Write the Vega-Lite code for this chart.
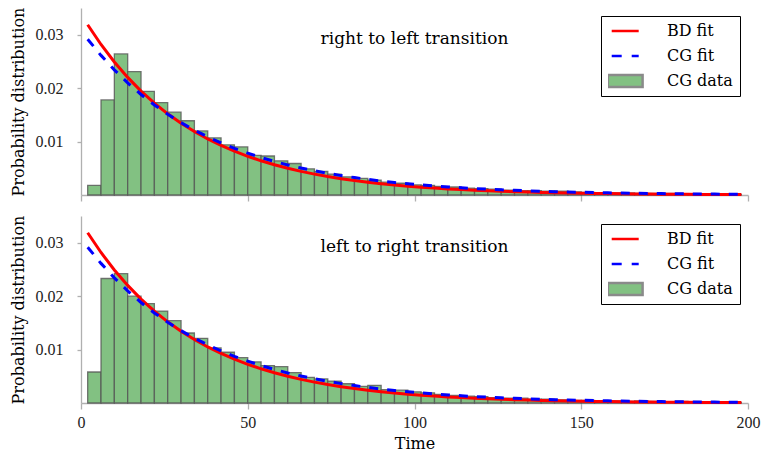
{
  "$schema": "https://vega.github.io/schema/vega-lite/v6.json",
  "padding": {"left": 10, "top": 7, "right": 3, "bottom": 3},
  "spacing": 13,
  "datasets": {
    "fits": [
      {"t": 2, "p": 0.03187, "series": "BD fit"}, {"t": 6, "p": 0.02817, "series": "BD fit"}, {"t": 10, "p": 0.02490, "series": "BD fit"}, {"t": 14, "p": 0.02201, "series": "BD fit"}, {"t": 18, "p": 0.01945, "series": "BD fit"}, {"t": 22, "p": 0.01719, "series": "BD fit"}, {"t": 26, "p": 0.01519, "series": "BD fit"}, {"t": 30, "p": 0.01343, "series": "BD fit"}, {"t": 34, "p": 0.01187, "series": "BD fit"}, {"t": 38, "p": 0.01049, "series": "BD fit"}, {"t": 42, "p": 0.00927, "series": "BD fit"}, {"t": 46, "p": 0.00820, "series": "BD fit"}, {"t": 50, "p": 0.00724, "series": "BD fit"}, {"t": 54, "p": 0.00640, "series": "BD fit"}, {"t": 58, "p": 0.00566, "series": "BD fit"}, {"t": 62, "p": 0.00500, "series": "BD fit"}, {"t": 66, "p": 0.00442, "series": "BD fit"}, {"t": 70, "p": 0.00391, "series": "BD fit"}, {"t": 74, "p": 0.00345, "series": "BD fit"}, {"t": 78, "p": 0.00305, "series": "BD fit"}, {"t": 82, "p": 0.00270, "series": "BD fit"}, {"t": 86, "p": 0.00238, "series": "BD fit"}, {"t": 90, "p": 0.00211, "series": "BD fit"}, {"t": 94, "p": 0.00186, "series": "BD fit"}, {"t": 98, "p": 0.00165, "series": "BD fit"}, {"t": 102, "p": 0.00146, "series": "BD fit"}, {"t": 106, "p": 0.00129, "series": "BD fit"}, {"t": 110, "p": 0.00114, "series": "BD fit"}, {"t": 114, "p": 0.00101, "series": "BD fit"}, {"t": 118, "p": 0.00089, "series": "BD fit"}, {"t": 122, "p": 0.00079, "series": "BD fit"}, {"t": 126, "p": 0.00069, "series": "BD fit"}, {"t": 130, "p": 0.00061, "series": "BD fit"}, {"t": 134, "p": 0.00054, "series": "BD fit"}, {"t": 138, "p": 0.00048, "series": "BD fit"}, {"t": 142, "p": 0.00042, "series": "BD fit"}, {"t": 146, "p": 0.00037, "series": "BD fit"}, {"t": 150, "p": 0.00033, "series": "BD fit"}, {"t": 154, "p": 0.00029, "series": "BD fit"}, {"t": 158, "p": 0.00026, "series": "BD fit"}, {"t": 162, "p": 0.00023, "series": "BD fit"}, {"t": 166, "p": 0.00020, "series": "BD fit"}, {"t": 170, "p": 0.00018, "series": "BD fit"}, {"t": 174, "p": 0.00016, "series": "BD fit"}, {"t": 178, "p": 0.00014, "series": "BD fit"}, {"t": 182, "p": 0.00012, "series": "BD fit"}, {"t": 186, "p": 0.00011, "series": "BD fit"}, {"t": 190, "p": 0.000096, "series": "BD fit"}, {"t": 194, "p": 0.000085, "series": "BD fit"}, {"t": 198, "p": 0.000075, "series": "BD fit"},
      {"t": 2, "p": 0.02916, "series": "CG fit"}, {"t": 6, "p": 0.02613, "series": "CG fit"}, {"t": 10, "p": 0.02342, "series": "CG fit"}, {"t": 14, "p": 0.02099, "series": "CG fit"}, {"t": 18, "p": 0.01881, "series": "CG fit"}, {"t": 22, "p": 0.01686, "series": "CG fit"}, {"t": 26, "p": 0.01511, "series": "CG fit"}, {"t": 30, "p": 0.01354, "series": "CG fit"}, {"t": 34, "p": 0.01213, "series": "CG fit"}, {"t": 38, "p": 0.01088, "series": "CG fit"}, {"t": 42, "p": 0.00975, "series": "CG fit"}, {"t": 46, "p": 0.00873, "series": "CG fit"}, {"t": 50, "p": 0.00783, "series": "CG fit"}, {"t": 54, "p": 0.00701, "series": "CG fit"}, {"t": 58, "p": 0.00629, "series": "CG fit"}, {"t": 62, "p": 0.00563, "series": "CG fit"}, {"t": 66, "p": 0.00505, "series": "CG fit"}, {"t": 70, "p": 0.00453, "series": "CG fit"}, {"t": 74, "p": 0.00406, "series": "CG fit"}, {"t": 78, "p": 0.00363, "series": "CG fit"}, {"t": 82, "p": 0.00326, "series": "CG fit"}, {"t": 86, "p": 0.00292, "series": "CG fit"}, {"t": 90, "p": 0.00262, "series": "CG fit"}, {"t": 94, "p": 0.00234, "series": "CG fit"}, {"t": 98, "p": 0.00210, "series": "CG fit"}, {"t": 102, "p": 0.00188, "series": "CG fit"}, {"t": 106, "p": 0.00169, "series": "CG fit"}, {"t": 110, "p": 0.00151, "series": "CG fit"}, {"t": 114, "p": 0.00136, "series": "CG fit"}, {"t": 118, "p": 0.00121, "series": "CG fit"}, {"t": 122, "p": 0.00109, "series": "CG fit"}, {"t": 126, "p": 0.00098, "series": "CG fit"}, {"t": 130, "p": 0.00087, "series": "CG fit"}, {"t": 134, "p": 0.00078, "series": "CG fit"}, {"t": 138, "p": 0.00070, "series": "CG fit"}, {"t": 142, "p": 0.00063, "series": "CG fit"}, {"t": 146, "p": 0.00056, "series": "CG fit"}, {"t": 150, "p": 0.00051, "series": "CG fit"}, {"t": 154, "p": 0.00045, "series": "CG fit"}, {"t": 158, "p": 0.00041, "series": "CG fit"}, {"t": 162, "p": 0.00036, "series": "CG fit"}, {"t": 166, "p": 0.00033, "series": "CG fit"}, {"t": 170, "p": 0.00029, "series": "CG fit"}, {"t": 174, "p": 0.00026, "series": "CG fit"}, {"t": 178, "p": 0.00023, "series": "CG fit"}, {"t": 182, "p": 0.00021, "series": "CG fit"}, {"t": 186, "p": 0.00019, "series": "CG fit"}, {"t": 190, "p": 0.00017, "series": "CG fit"}, {"t": 194, "p": 0.00015, "series": "CG fit"}, {"t": 198, "p": 0.00014, "series": "CG fit"}
    ],
    "top": [
      {"t0": 2, "t1": 6, "p": 0.0018}, {"t0": 6, "t1": 10, "p": 0.0178}, {"t0": 10, "t1": 14, "p": 0.0264}, {"t0": 14, "t1": 18, "p": 0.0231}, {"t0": 18, "t1": 22, "p": 0.0194}, {"t0": 22, "t1": 26, "p": 0.0173}, {"t0": 26, "t1": 30, "p": 0.0155}, {"t0": 30, "t1": 34, "p": 0.0139}, {"t0": 34, "t1": 38, "p": 0.0120}, {"t0": 38, "t1": 42, "p": 0.0107}, {"t0": 42, "t1": 46, "p": 0.0094}, {"t0": 46, "t1": 50, "p": 0.0090}, {"t0": 50, "t1": 54, "p": 0.0074}, {"t0": 54, "t1": 58, "p": 0.0073}, {"t0": 58, "t1": 62, "p": 0.0064}, {"t0": 62, "t1": 66, "p": 0.0059}, {"t0": 66, "t1": 70, "p": 0.0049}, {"t0": 70, "t1": 74, "p": 0.0044}, {"t0": 74, "t1": 78, "p": 0.0039}, {"t0": 78, "t1": 82, "p": 0.0034}, {"t0": 82, "t1": 86, "p": 0.0031}, {"t0": 86, "t1": 90, "p": 0.0028}, {"t0": 90, "t1": 94, "p": 0.0024}, {"t0": 94, "t1": 98, "p": 0.0022}, {"t0": 98, "t1": 102, "p": 0.0019}, {"t0": 102, "t1": 106, "p": 0.0018}, {"t0": 106, "t1": 110, "p": 0.0016}, {"t0": 110, "t1": 114, "p": 0.0015}, {"t0": 114, "t1": 118, "p": 0.0013}, {"t0": 118, "t1": 122, "p": 0.0012}, {"t0": 122, "t1": 126, "p": 0.0011}, {"t0": 126, "t1": 130, "p": 0.0009}, {"t0": 130, "t1": 134, "p": 0.0008}, {"t0": 134, "t1": 138, "p": 0.0008}, {"t0": 138, "t1": 142, "p": 0.0007}, {"t0": 142, "t1": 146, "p": 0.0007}, {"t0": 146, "t1": 150, "p": 0.0006}, {"t0": 150, "t1": 154, "p": 0.0005}, {"t0": 154, "t1": 158, "p": 0.0004}, {"t0": 158, "t1": 162, "p": 0.0004}, {"t0": 162, "t1": 166, "p": 0.0004}, {"t0": 166, "t1": 170, "p": 0.0003}, {"t0": 170, "t1": 174, "p": 0.0003}, {"t0": 174, "t1": 178, "p": 0.0003}, {"t0": 178, "t1": 182, "p": 0.0002}, {"t0": 182, "t1": 186, "p": 0.0002}, {"t0": 186, "t1": 190, "p": 0.0002}, {"t0": 190, "t1": 194, "p": 0.0002}, {"t0": 194, "t1": 198, "p": 0.0001}
    ],
    "bottom": [
      {"t0": 2, "t1": 6, "p": 0.0058}, {"t0": 6, "t1": 10, "p": 0.0233}, {"t0": 10, "t1": 14, "p": 0.0242}, {"t0": 14, "t1": 18, "p": 0.0200}, {"t0": 18, "t1": 22, "p": 0.0186}, {"t0": 22, "t1": 26, "p": 0.0172}, {"t0": 26, "t1": 30, "p": 0.0154}, {"t0": 30, "t1": 34, "p": 0.0131}, {"t0": 34, "t1": 38, "p": 0.0121}, {"t0": 38, "t1": 42, "p": 0.0103}, {"t0": 42, "t1": 46, "p": 0.0095}, {"t0": 46, "t1": 50, "p": 0.0085}, {"t0": 50, "t1": 54, "p": 0.0077}, {"t0": 54, "t1": 58, "p": 0.0070}, {"t0": 58, "t1": 62, "p": 0.0068}, {"t0": 62, "t1": 66, "p": 0.0057}, {"t0": 66, "t1": 70, "p": 0.0048}, {"t0": 70, "t1": 74, "p": 0.0045}, {"t0": 74, "t1": 78, "p": 0.0041}, {"t0": 78, "t1": 82, "p": 0.0036}, {"t0": 82, "t1": 86, "p": 0.0031}, {"t0": 86, "t1": 90, "p": 0.0033}, {"t0": 90, "t1": 94, "p": 0.0025}, {"t0": 94, "t1": 98, "p": 0.0024}, {"t0": 98, "t1": 102, "p": 0.0021}, {"t0": 102, "t1": 106, "p": 0.0019}, {"t0": 106, "t1": 110, "p": 0.0016}, {"t0": 110, "t1": 114, "p": 0.0014}, {"t0": 114, "t1": 118, "p": 0.0013}, {"t0": 118, "t1": 122, "p": 0.0012}, {"t0": 122, "t1": 126, "p": 0.0010}, {"t0": 126, "t1": 130, "p": 0.0009}, {"t0": 130, "t1": 134, "p": 0.0009}, {"t0": 134, "t1": 138, "p": 0.0007}, {"t0": 138, "t1": 142, "p": 0.0007}, {"t0": 142, "t1": 146, "p": 0.0006}, {"t0": 146, "t1": 150, "p": 0.0005}, {"t0": 150, "t1": 154, "p": 0.0005}, {"t0": 154, "t1": 158, "p": 0.0004}, {"t0": 158, "t1": 162, "p": 0.0004}, {"t0": 162, "t1": 166, "p": 0.0003}, {"t0": 166, "t1": 170, "p": 0.0004}, {"t0": 170, "t1": 174, "p": 0.0003}, {"t0": 174, "t1": 178, "p": 0.0002}, {"t0": 178, "t1": 182, "p": 0.0003}, {"t0": 182, "t1": 186, "p": 0.0002}, {"t0": 186, "t1": 190, "p": 0.0002}, {"t0": 190, "t1": 194, "p": 0.0001}, {"t0": 194, "t1": 198, "p": 0.0001}
    ]
  },
  "vconcat": [
    {
      "width": 667, "height": 187,
      "title": {"text": "right to left transition", "offset": -54, "baseline": "alphabetic"},
      "layer": [
        {
          "data": {"name": "top"},
          "mark": {"type": "bar", "fill": "#82c182", "stroke": "#555555", "strokeWidth": 1.3, "strokeOpacity": 0.8},
          "encoding": {
            "x": {"field": "t0", "type": "quantitative", "scale": {"domain": [0, 200], "nice": false}, "axis": {"values": [0, 50, 100, 150, 200], "labels": false, "title": null}},
            "x2": {"field": "t1"},
            "y": {"field": "p", "type": "quantitative", "scale": {"domain": [0, 0.035], "nice": false}, "axis": {"values": [0.01, 0.02, 0.03], "format": ".2f", "title": "Probability distribution"}},
            "y2": {"datum": 0}
          }
        },
        {
          "data": {"name": "fits"},
          "transform": [{"filter": "datum.series === 'BD fit'"}],
          "mark": {"type": "line", "strokeWidth": 3, "stroke": "#ff0000"},
          "encoding": {"x": {"field": "t", "type": "quantitative"}, "y": {"field": "p", "type": "quantitative"}}
        },
        {
          "data": {"name": "fits"},
          "transform": [{"filter": "datum.series === 'CG fit'"}],
          "mark": {"type": "line", "strokeWidth": 3, "strokeDash": [9, 9], "stroke": "#0000ff"},
          "encoding": {"x": {"field": "t", "type": "quantitative"}, "y": {"field": "p", "type": "quantitative"}}
        },
        {
          "data": {"name": "fits"},
          "transform": [{"filter": "datum.t < 0"}],
          "mark": {"type": "point", "opacity": 1},
          "encoding": {
            "x": {"field": "t", "type": "quantitative"},
            "y": {"field": "p", "type": "quantitative"},
            "shape": {"field": "series", "type": "nominal",
              "scale": {"domain": ["BD fit", "CG fit", "CG data"], "range": ["M-2.25,0H2.25", "M-2.25,0H2.25", "M-2.9,-1H2.9V1H-2.9Z"]},
              "legend": {"title": null, "orient": "top-right", "offset": 8, "padding": 7, "fillColor": "white", "strokeColor": "black", "labelFont": "DejaVu Serif", "labelFontSize": 16, "labelColor": "black", "symbolSize": 144, "symbolStrokeWidth": 2.5, "symbolOpacity": 1, "symbolOffset": 9.2, "labelOffset": 33.7, "rowPadding": 9, "clipHeight": 16}},
            "fill": {"field": "series", "type": "nominal",
              "scale": {"domain": ["BD fit", "CG fit", "CG data"], "range": ["transparent", "transparent", "#82c182"]},
              "legend": {"title": null, "orient": "top-right", "offset": 8, "padding": 7, "fillColor": "white", "strokeColor": "black", "labelFont": "DejaVu Serif", "labelFontSize": 16, "labelColor": "black", "symbolSize": 144, "symbolStrokeWidth": 2.5, "symbolOpacity": 1, "symbolOffset": 9.2, "labelOffset": 33.7, "rowPadding": 9, "clipHeight": 16}},
            "stroke": {"field": "series", "type": "nominal",
              "scale": {"domain": ["BD fit", "CG fit", "CG data"], "range": ["#ff0000", "#0000ff", "#8a8a8a"]},
              "legend": {"title": null, "orient": "top-right", "offset": 8, "padding": 7, "fillColor": "white", "strokeColor": "black", "labelFont": "DejaVu Serif", "labelFontSize": 16, "labelColor": "black", "symbolSize": 144, "symbolStrokeWidth": 2.5, "symbolOpacity": 1, "symbolOffset": 9.2, "labelOffset": 33.7, "rowPadding": 9, "clipHeight": 16}},
            "strokeDash": {"field": "series", "type": "nominal",
              "scale": {"domain": ["BD fit", "CG fit", "CG data"], "range": [[1, 0], [10, 10], [1, 0]]},
              "legend": {"title": null, "orient": "top-right", "offset": 8, "padding": 7, "fillColor": "white", "strokeColor": "black", "labelFont": "DejaVu Serif", "labelFontSize": 16, "labelColor": "black", "symbolSize": 144, "symbolStrokeWidth": 2.5, "symbolOpacity": 1, "symbolOffset": 9.2, "labelOffset": 33.7, "rowPadding": 9, "clipHeight": 16}}
          }
        }
      ]
    },
    {
      "width": 667, "height": 187,
      "title": {"text": "left to right transition", "offset": -54, "baseline": "alphabetic"},
      "layer": [
        {
          "data": {"name": "bottom"},
          "mark": {"type": "bar", "fill": "#82c182", "stroke": "#555555", "strokeWidth": 1.3, "strokeOpacity": 0.8},
          "encoding": {
            "x": {"field": "t0", "type": "quantitative", "scale": {"domain": [0, 200], "nice": false}, "axis": {"values": [0, 50, 100, 150, 200], "title": "Time"}},
            "x2": {"field": "t1"},
            "y": {"field": "p", "type": "quantitative", "scale": {"domain": [0, 0.035], "nice": false}, "axis": {"values": [0.01, 0.02, 0.03], "format": ".2f", "title": "Probability distribution"}},
            "y2": {"datum": 0}
          }
        },
        {
          "data": {"name": "fits"},
          "transform": [{"filter": "datum.series === 'BD fit'"}],
          "mark": {"type": "line", "strokeWidth": 3, "stroke": "#ff0000"},
          "encoding": {"x": {"field": "t", "type": "quantitative"}, "y": {"field": "p", "type": "quantitative"}}
        },
        {
          "data": {"name": "fits"},
          "transform": [{"filter": "datum.series === 'CG fit'"}],
          "mark": {"type": "line", "strokeWidth": 3, "strokeDash": [9, 9], "stroke": "#0000ff"},
          "encoding": {"x": {"field": "t", "type": "quantitative"}, "y": {"field": "p", "type": "quantitative"}}
        },
        {
          "data": {"name": "fits"},
          "transform": [{"filter": "datum.t < 0"}],
          "mark": {"type": "point", "opacity": 1},
          "encoding": {
            "x": {"field": "t", "type": "quantitative"},
            "y": {"field": "p", "type": "quantitative"},
            "shape": {"field": "series", "type": "nominal",
              "scale": {"domain": ["BD fit", "CG fit", "CG data"], "range": ["M-2.25,0H2.25", "M-2.25,0H2.25", "M-2.9,-1H2.9V1H-2.9Z"]},
              "legend": {"title": null, "orient": "top-right", "offset": 8, "padding": 7, "fillColor": "white", "strokeColor": "black", "labelFont": "DejaVu Serif", "labelFontSize": 16, "labelColor": "black", "symbolSize": 144, "symbolStrokeWidth": 2.5, "symbolOpacity": 1, "symbolOffset": 9.2, "labelOffset": 33.7, "rowPadding": 9, "clipHeight": 16}},
            "fill": {"field": "series", "type": "nominal",
              "scale": {"domain": ["BD fit", "CG fit", "CG data"], "range": ["transparent", "transparent", "#82c182"]},
              "legend": {"title": null, "orient": "top-right", "offset": 8, "padding": 7, "fillColor": "white", "strokeColor": "black", "labelFont": "DejaVu Serif", "labelFontSize": 16, "labelColor": "black", "symbolSize": 144, "symbolStrokeWidth": 2.5, "symbolOpacity": 1, "symbolOffset": 9.2, "labelOffset": 33.7, "rowPadding": 9, "clipHeight": 16}},
            "stroke": {"field": "series", "type": "nominal",
              "scale": {"domain": ["BD fit", "CG fit", "CG data"], "range": ["#ff0000", "#0000ff", "#8a8a8a"]},
              "legend": {"title": null, "orient": "top-right", "offset": 8, "padding": 7, "fillColor": "white", "strokeColor": "black", "labelFont": "DejaVu Serif", "labelFontSize": 16, "labelColor": "black", "symbolSize": 144, "symbolStrokeWidth": 2.5, "symbolOpacity": 1, "symbolOffset": 9.2, "labelOffset": 33.7, "rowPadding": 9, "clipHeight": 16}},
            "strokeDash": {"field": "series", "type": "nominal",
              "scale": {"domain": ["BD fit", "CG fit", "CG data"], "range": [[1, 0], [10, 10], [1, 0]]},
              "legend": {"title": null, "orient": "top-right", "offset": 8, "padding": 7, "fillColor": "white", "strokeColor": "black", "labelFont": "DejaVu Serif", "labelFontSize": 16, "labelColor": "black", "symbolSize": 144, "symbolStrokeWidth": 2.5, "symbolOpacity": 1, "symbolOffset": 9.2, "labelOffset": 33.7, "rowPadding": 9, "clipHeight": 16}}
          }
        }
      ]
    }
  ],
  "resolve": {
    "legend": {"shape": "independent", "fill": "independent", "stroke": "independent", "strokeDash": "independent"},
    "scale": {"shape": "independent", "fill": "independent", "stroke": "independent", "strokeDash": "independent"}
  },
  "config": {
    "view": {"stroke": null},
    "font": "DejaVu Serif",
    "title": {"font": "DejaVu Serif", "fontSize": 17, "fontWeight": "normal", "color": "black", "anchor": "middle"},
    "axis": {
      "grid": false,
      "domainColor": "#b0b0b0",
      "domainWidth": 1.3,
      "tickColor": "#b0b0b0",
      "tickWidth": 1.3,
      "labelFont": "Liberation Serif",
      "labelFontSize": 16,
      "labelColor": "#222222",
      "labelFlush": false,
      "titleFont": "DejaVu Serif",
      "titleFontSize": 16,
      "titleFontWeight": "normal",
      "titleColor": "black"
    },
    "axisX": {"tickSize": 6, "labelPadding": 5, "titlePadding": 5},
    "axisY": {"tickSize": 4, "labelPadding": 14, "titlePadding": 9}
  }
}
